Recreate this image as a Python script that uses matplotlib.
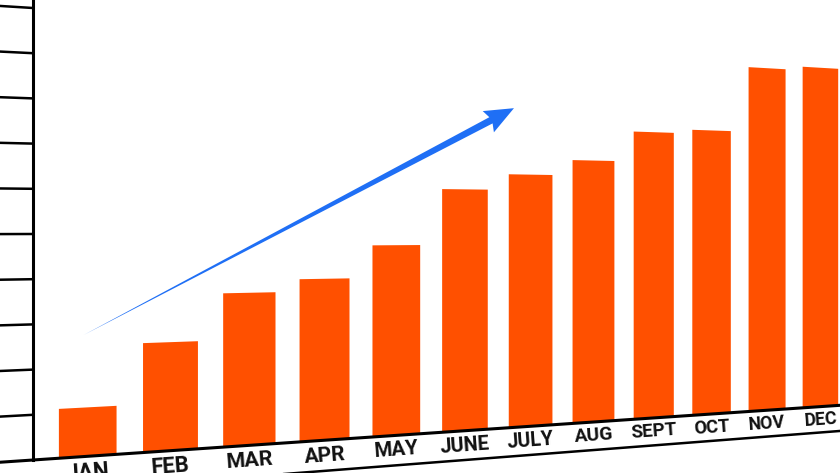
import numpy as np
import matplotlib.pyplot as plt
from matplotlib.patches import Polygon
from matplotlib.transforms import Transform, IdentityTransform

# Monthly values (in grid units)
months = ["JAN", "FEB", "MAR", "APR", "MAY", "JUNE",
          "JULY", "AUG", "SEPT", "OCT", "NOV", "DEC"]
sales = [1.1, 2.5, 3.6, 3.9, 4.7, 6.1, 6.5, 6.9, 7.7, 7.8, 9.6, 9.7]
grid_levels = [1, 2, 3, 4, 5, 6, 7, 8, 9, 10]

# Trend arrow, in data coordinates (bar index, value)
trend_start = (-0.05, 2.73)
trend_end = (5.74, 8.2)

ORANGE = "#FF5000"
BLUE = "#1F6FF5"

# Flat layout in pixels, before the perspective is applied
W, H = 840, 473
AXIS_X = 33          # y axis position
FIRST_BAR_X = 88.85  # centre of first bar
STEP = 87.56         # bar spacing
BASE_Y = 13          # baseline height
UNIT = 45.2          # pixels per grid unit
VANISH = (3500, 248)  # vanishing point of the receding plane


class Perspective(Transform):
    """Maps the flat chart (display px) onto a plane receding to the right."""
    input_dims = output_dims = 2

    def __init__(self, x0, xv, yv):
        super().__init__()
        self.x0, self.xv, self.yv = x0, xv, yv

    def scale(self, x):
        depth = self.xv - self.x0
        return depth / (depth + x - self.x0)

    def transform_non_affine(self, values):
        xy = np.atleast_2d(np.asarray(values, dtype=float))
        s = self.scale(xy[:, 0])
        return np.column_stack([self.xv - (self.xv - self.x0) * s,
                                self.yv + (xy[:, 1] - self.yv) * s])


fig = plt.figure(figsize=(W / 100, H / 100), dpi=100)
ax = fig.add_axes([0, 0, 1, 1])
ax.axis("off")

persp = Perspective(AXIS_X, *VANISH)
tr = ax.transData + persp

x = np.arange(len(months))
bars = ax.bar(x, sales, width=0.68, color=ORANGE, linewidth=0, zorder=2)
for b in bars:
    b.set_transform(tr)

ax.set_xlim(-FIRST_BAR_X / STEP, (W - FIRST_BAR_X) / STEP)
ax.set_ylim(-BASE_Y / UNIT, (H - BASE_Y) / UNIT)

# axis, grid stubs, baseline and the lower border of the label band
ax_x = (AXIS_X - FIRST_BAR_X) / STEP
left = (-30 - FIRST_BAR_X) / STEP
ax.plot([ax_x, ax_x], [0, 11], color="black", lw=2.2, transform=tr, zorder=3)
for lvl in grid_levels:
    ax.plot([left, ax_x], [lvl, lvl], color="black", lw=1.8, transform=tr, zorder=3)
ax.plot([left, 14], [0, 0], color="black", lw=2.2, transform=tr, zorder=3)
ax.plot([left, 14], [-0.74, -0.74], color="black", lw=1.8, transform=tr, zorder=3)

# month labels, shrunk and tilted with the plane
for i, m in enumerate(months):
    p = tr.transform([[i - 0.3, -0.38], [i + 0.3, -0.38]])
    ang = np.degrees(np.arctan2(p[1, 1] - p[0, 1], p[1, 0] - p[0, 0]))
    s = persp.scale(FIRST_BAR_X + i * STEP)
    ax.text(i, -0.37, m, transform=tr, ha="center", va="center",
            rotation=ang, rotation_mode="anchor", fontsize=16.5 * s,
            family=["Roboto", "DejaVu Sans"], weight="bold",
            color="#111111")

# tapered trend arrow
p0, p1 = tr.transform([trend_start, trend_end])
u = (p1 - p0) / np.hypot(*(p1 - p0))
n = np.array([-u[1], u[0]])
head_len, head_w, shaft_w = 26, 24, 7
base = p1 - u * head_len
verts = [p0, base + n * shaft_w / 2, base + n * head_w / 2 - u * 3, p1,
         base - n * head_w / 2 - u * 3, base - n * shaft_w / 2]
fig.add_artist(Polygon(verts, closed=True, transform=IdentityTransform(),
                       facecolor=BLUE, edgecolor="none", zorder=4))

fig.savefig("out.png", dpi=100)
